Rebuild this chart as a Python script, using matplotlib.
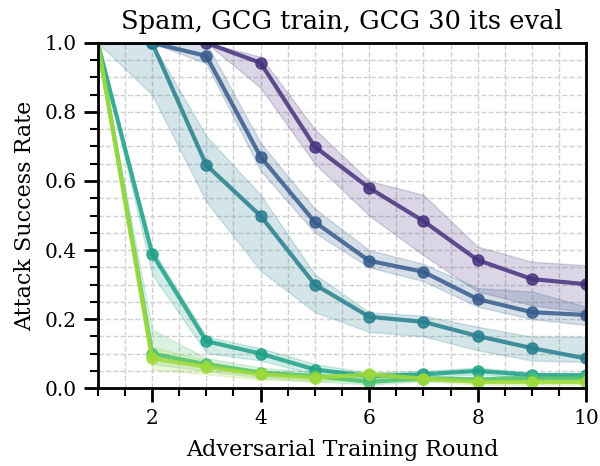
import numpy as np
import matplotlib
matplotlib.use("Agg")
from matplotlib import pyplot as plt
from matplotlib.ticker import MultipleLocator

rounds = [1, 2, 3, 4, 5, 6, 7, 8, 9, 10]

# mean attack success rate per adversarial training round, one list per run
asr_mean = [
    [1.0, 1.0, 1.0, 0.942, 0.699, 0.58, 0.484, 0.371, 0.316, 0.301],
    [1.0, 1.0, 0.962, 0.67, 0.481, 0.369, 0.337, 0.258, 0.22, 0.212],
    [1.0, 1.0, 0.646, 0.499, 0.30, 0.207, 0.192, 0.151, 0.116, 0.086],
    [1.0, 0.39, 0.136, 0.10, 0.054, 0.035, 0.04, 0.05, 0.038, 0.037],
    [1.0, 0.10, 0.069, 0.045, 0.035, 0.018, 0.028, 0.025, 0.03, 0.03],
    [1.0, 0.086, 0.062, 0.04, 0.03, 0.04, 0.028, 0.018, 0.018, 0.018],
]

# lower / upper edges of the shaded spread
asr_low = [
    [1.0, 1.0, 1.0, 0.87, 0.65, 0.50, 0.385, 0.28, 0.24, 0.22],
    [1.0, 1.0, 0.94, 0.63, 0.45, 0.35, 0.31, 0.236, 0.20, 0.183],
    [1.0, 0.85, 0.54, 0.34, 0.22, 0.163, 0.15, 0.11, 0.08, 0.076],
    [1.0, 0.33, 0.102, 0.08, 0.04, 0.025, 0.03, 0.04, 0.03, 0.03],
    [1.0, 0.07, 0.05, 0.03, 0.02, 0.01, 0.02, 0.018, 0.022, 0.022],
    [1.0, 0.055, 0.04, 0.025, 0.02, 0.025, 0.02, 0.01, 0.01, 0.01],
]
asr_high = [
    [1.0, 1.0, 1.0, 0.96, 0.75, 0.60, 0.56, 0.41, 0.366, 0.356],
    [1.0, 1.0, 1.0, 0.71, 0.52, 0.40, 0.36, 0.29, 0.28, 0.236],
    [1.0, 1.0, 0.73, 0.56, 0.33, 0.22, 0.21, 0.178, 0.149, 0.149],
    [1.0, 0.405, 0.149, 0.116, 0.07, 0.045, 0.05, 0.06, 0.045, 0.045],
    [1.0, 0.17, 0.087, 0.06, 0.045, 0.03, 0.035, 0.032, 0.038, 0.038],
    [1.0, 0.12, 0.08, 0.05, 0.04, 0.05, 0.035, 0.026, 0.026, 0.026],
]

colors = plt.cm.viridis(np.linspace(0, 1, len(asr_mean) + 2)[1:-1])

plt.rcParams['font.family'] = 'DejaVu Serif'

fig = plt.figure(figsize=(6, 4.66), dpi=100)
ax = fig.add_axes([0.163, 0.167, 0.814, 0.741])

for mean, low, high, color in zip(asr_mean, asr_low, asr_high, colors):
    ax.fill_between(rounds, low, high, color=color, alpha=0.2, linewidth=1)
    ax.plot(rounds, mean, color=color, alpha=0.85, linewidth=3, marker='o', markersize=8,
            markevery=list(range(1, len(rounds))))

ax.set_xlim(1, 10)
ax.set_ylim(0, 1)
ax.xaxis.set_major_locator(MultipleLocator(2))
ax.xaxis.set_minor_locator(MultipleLocator(0.5))
ax.yaxis.set_major_locator(MultipleLocator(0.2))
ax.yaxis.set_minor_locator(MultipleLocator(0.05))
ax.grid(which='both', linestyle='--', color='0.82', linewidth=1)
ax.set_axisbelow(True)

ax.tick_params(which='major', length=10, width=2, pad=5, labelsize=14.5)
ax.tick_params(which='minor', length=5.5, width=1.5)
for spine in ax.spines.values():
    spine.set_linewidth(2)

ax.set_xlabel('Adversarial Training Round', fontsize=16, labelpad=8)
ax.set_ylabel('Attack Success Rate', fontsize=16, labelpad=6)
ax.set_title('Spam, GCG train, GCG 30 its eval', fontsize=18.5, pad=10)

plt.savefig('out.png')
